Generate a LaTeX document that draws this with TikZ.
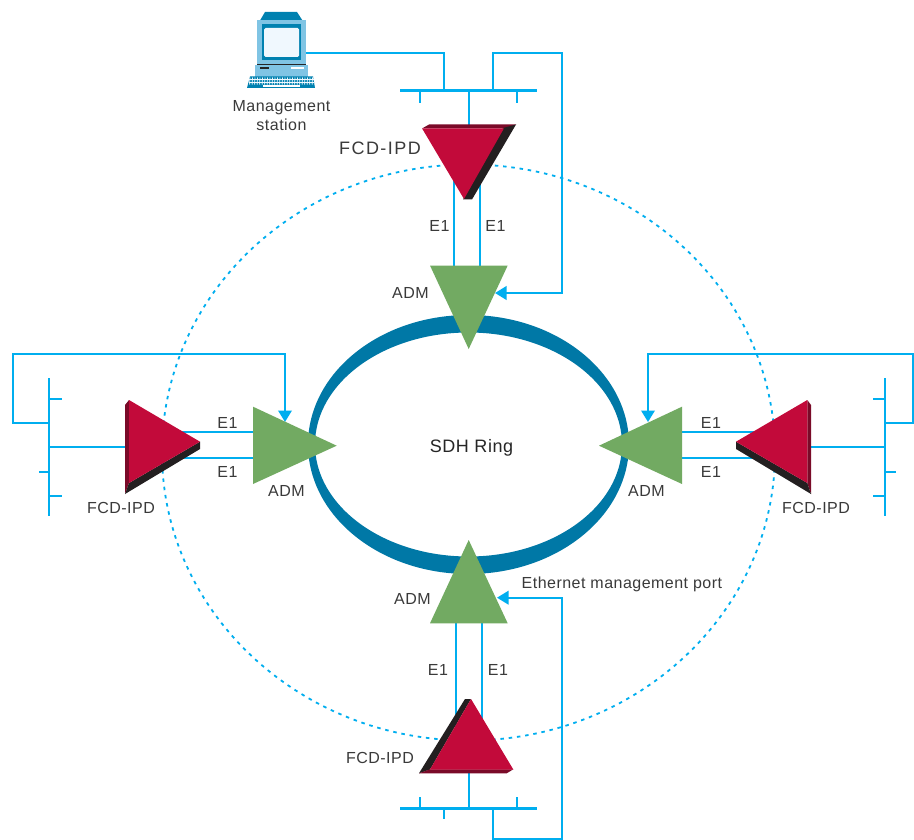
\documentclass[tikz,border=0pt]{standalone}
\usepackage{fontspec}
\setmainfont{Liberation Sans}
\newfontfamily\labfont[LetterSpace=3]{Liberation Sans}
\newfontfamily\bigfont[LetterSpace=8]{Liberation Sans}
\usetikzlibrary{arrows.meta}
\definecolor{linkblue}{HTML}{00AEEF}
\definecolor{admgreen}{HTML}{72AA62}
\definecolor{ipdred}{HTML}{C20A3A}
\definecolor{ipddark}{HTML}{7A0A28}
\definecolor{ipdblack}{HTML}{231F20}
\definecolor{ringblue}{HTML}{0078A6}
\definecolor{pcblue}{HTML}{80C4E4}
\definecolor{pcteal}{HTML}{0081B0}
\definecolor{pcscreen}{HTML}{F0F8FE}
\definecolor{labelgrey}{HTML}{3A3A3A}
\tikzset{
  link/.style={draw=linkblue,line width=2pt},
  stub/.style={draw=linkblue,line width=1.8pt},
  busbar/.style={draw=linkblue,line width=2.9pt},
  mgmt/.style={draw=linkblue,line width=2pt,-{Triangle[length=11.5pt,width=13.5pt]}},
  e1line/.style={draw=linkblue,line width=2pt},
  admtri/.style={fill=admgreen},
  ipdface/.style={fill=ipdred},
  ipdedge/.style={fill=ipddark},
  ipdshade/.style={fill=ipdblack},
  lab/.style={text=labelgrey,inner sep=0pt,font=\labfont\fontsize{16}{18}\selectfont},
  labbig/.style={text=labelgrey,inner sep=0pt,font=\bigfont\fontsize{18}{20}\selectfont},
  x=1pt,y=-1pt
}
\begin{document}
\begin{tikzpicture}
\useasboundingbox (0,0) rectangle (914,840);
\fill[white] (0,0) rectangle (914,840);

% dotted management ring
\draw[linkblue,line width=1.8pt,dash pattern=on 3.5pt off 4.8pt] (468.5,452.5) ellipse [x radius=306.5,y radius=288];

% SDH ring
\fill[ringblue,even odd rule] (468.5,444.5) ellipse [x radius=160.5,y radius=129.5]
      (468.5,444.5) ellipse [x radius=153.5,y radius=112];
\node[inner sep=0pt,text=black!85,font=\labfont\fontsize{18}{20}\selectfont] (ringlabel) at (471.5,448) {SDH Ring};

% named points: top site
\coordinate (tbusL) at (400,90.7);  \coordinate (tbusR) at (537,90.7);
\coordinate (ts1) at (420,90.7);    \coordinate (ts1e) at (420,102.7);
\coordinate (ts2) at (517,90.7);    \coordinate (ts2e) at (517,102.7);
\coordinate (tsm) at (468.7,90.7);  \coordinate (tsme) at (468.7,126);
\coordinate (tj1) at (444,90.7);    \coordinate (tj2) at (492.7,90.7);
\coordinate (tadmport) at (495,293);
\coordinate (te1a) at (454,170);    \coordinate (te1ae) at (454,266);
\coordinate (te1b) at (480,170);    \coordinate (te1be) at (480,266);
% left site
\coordinate (lbusT) at (49,378);    \coordinate (lbusB) at (49,516);
\coordinate (ls1) at (49,398.7);    \coordinate (ls1e) at (61.5,398.7);
\coordinate (ls2) at (49,471.7);    \coordinate (ls2e) at (38.5,471.7);
\coordinate (ls3) at (49,495.7);    \coordinate (ls3e) at (61.5,495.7);
\coordinate (lsm) at (49,447);      \coordinate (lsme) at (126,447);
\coordinate (lj) at (49,422.7);
\coordinate (ladmport) at (285,422);
\coordinate (le1a) at (175,432.3);  \coordinate (le1ae) at (254,432.3);
\coordinate (le1b) at (175,458.3);  \coordinate (le1be) at (254,458.3);
% right site
\coordinate (rbusT) at (885,378);   \coordinate (rbusB) at (885,516);
\coordinate (rs1) at (885,398.7);   \coordinate (rs1e) at (873,398.7);
\coordinate (rs2) at (885,471.7);   \coordinate (rs2e) at (895.7,471.7);
\coordinate (rs3) at (885,495.7);   \coordinate (rs3e) at (873,495.7);
\coordinate (rsm) at (885,447);     \coordinate (rsme) at (810,447);
\coordinate (rj) at (885,422.7);
\coordinate (radmport) at (648,422);
\coordinate (re1a) at (760,432.3);  \coordinate (re1ae) at (681,432.3);
\coordinate (re1b) at (760,458.3);  \coordinate (re1be) at (681,458.3);
% bottom site
\coordinate (bbusL) at (400,808.3); \coordinate (bbusR) at (537.3,808.3);
\coordinate (bs1) at (420,808.3);   \coordinate (bs1e) at (420,796.7);
\coordinate (bs2) at (517,808.3);   \coordinate (bs2e) at (517,796.7);
\coordinate (bs3) at (444.3,808.3); \coordinate (bs3e) at (444.3,819);
\coordinate (bsm) at (468.7,808.3); \coordinate (bsme) at (468.7,772);
\coordinate (bj) at (492.7,808.3);
\coordinate (badmport) at (497,597.7);
\coordinate (be1a) at (456,730);    \coordinate (be1ae) at (456,622);
\coordinate (be1b) at (481.7,730);  \coordinate (be1be) at (481.7,622);
\coordinate (pcport) at (306,52.7);

% links
\draw[link] (pcport) -| (tj1);
\draw[mgmt] (tj2) |- (561.7,52.7) |- (tadmport);
\draw[e1line] (te1a) -- (te1ae);
\draw[e1line] (te1b) -- (te1be);
\draw[stub] (ts1) -- (ts1e);
\draw[stub] (ts2) -- (ts2e);
\draw[stub] (tsm) -- (tsme);
\draw[busbar] (tbusL) -- (tbusR);

\draw[mgmt] (lj) -| (13,354) -| (ladmport);
\draw[e1line] (le1a) -- (le1ae);
\draw[e1line] (le1b) -- (le1be);
\draw[stub] (ls1) -- (ls1e);
\draw[stub] (ls2) -- (ls2e);
\draw[stub] (ls3) -- (ls3e);
\draw[stub] (lsm) -- (lsme);
\draw[busbar] (lbusT) -- (lbusB);

\draw[mgmt] (rj) -| (913,354) -| (radmport);
\draw[e1line] (re1a) -- (re1ae);
\draw[e1line] (re1b) -- (re1be);
\draw[stub] (rs1) -- (rs1e);
\draw[stub] (rs2) -- (rs2e);
\draw[stub] (rs3) -- (rs3e);
\draw[stub] (rsm) -- (rsme);
\draw[busbar] (rbusT) -- (rbusB);

\draw[mgmt] (bj) |- (561.7,839) |- (badmport);
\draw[e1line] (be1a) -- (be1ae);
\draw[e1line] (be1b) -- (be1be);
\draw[stub] (bs1) -- (bs1e);
\draw[stub] (bs2) -- (bs2e);
\draw[stub] (bs3) -- (bs3e);
\draw[stub] (bsm) -- (bsme);
\draw[busbar] (bbusL) -- (bbusR);

% ADM triangles
\fill[admtri] (430,265.5) -- (507.7,265.5) -- (468.7,349) -- cycle;
\fill[admtri] (253,406.7) -- (253,484) -- (336.7,445.7) -- cycle;
\fill[admtri] (682,406.7) -- (682,484) -- (599,445.7) -- cycle;
\fill[admtri] (468.7,540) -- (430,623.3) -- (507.7,623.3) -- cycle;

% FCD-IPD top
\fill[ipdedge] (422,128.5) -- (429,124.5) -- (516,124.5) -- (506,128.5) -- cycle;
\fill[ipdshade] (503,128) -- (516,124.5) -- (472,199.5) -- (463,199.5) -- cycle;
\fill[ipdface] (422,128.3) -- (504,128.3) -- (464,199) -- cycle;
% FCD-IPD left
\fill[ipdedge] (125,405) -- (129,400) -- (129,483) -- (125,494) -- cycle;
\fill[ipdshade] (129,483) -- (200,441.7) -- (200,449) -- (125,494) -- cycle;
\fill[ipdface] (129,400) -- (200,441.7) -- (129,483) -- cycle;
% FCD-IPD right
\fill[ipdedge] (807.3,400) -- (811,405) -- (811,494) -- (807.3,483) -- cycle;
\fill[ipdshade] (736,441.7) -- (807.3,483) -- (811,494) -- (736,449) -- cycle;
\fill[ipdface] (807.3,400) -- (736,441.7) -- (807.3,483) -- cycle;
% FCD-IPD bottom
\fill[ipdshade] (465,699) -- (471,699) -- (430,769.5) -- (419,773.3) -- cycle;
\fill[ipdedge] (419,773.3) -- (430,769.3) -- (513.3,769.3) -- (506.7,773.3) -- cycle;
\fill[ipdface] (471,699) -- (430,769.5) -- (513.3,769.5) -- cycle;

% management station
\fill[pcteal] (260,20.5) -- (265,12) -- (297,12) -- (302.5,20.5) -- cycle;
\fill[pcblue] (257,20) rectangle (306,64);
\fill[pcteal] (262,24.5) rectangle (301,60);
\fill[pcscreen,rounded corners=1.5pt] (264,28) rectangle (299,57);
\fill[pcblue] (255,65) rectangle (308,77);
\fill[black!85] (257,64) rectangle (306,65);
\fill[black!85] (260,67) rectangle (269,69);
\fill[white] (291,67) rectangle (304,69);
\fill[pcteal] (250,76.5) -- (313,76.5) -- (315,88) -- (247,88) -- cycle;
\foreach \kx in {250,252.5,...,313} {\draw[pcscreen,line width=.8pt] (\kx,77.5) -- ++(-.4,7);}
\foreach \ky in {79.3,82.3} {\draw[pcscreen,line width=.8pt] (248.5,\ky) -- (314,\ky);}
\fill[white] (263,85) rectangle (300,87);

% labels
\node[lab,align=center] (stationlabel) at (281.5,115.5) {Management\\[1.2pt]station};
\node[labbig] (ipdtop) at (380,148) {FCD-IPD};
\node[lab] (e1ta) at (439.5,225.5) {E1};
\node[lab] (e1tb) at (495.5,225.5) {E1};
\node[lab] (admt) at (410.5,293) {ADM};
\node[lab] (e1la) at (227.5,422.5) {E1};
\node[lab] (e1lb) at (227.5,472) {E1};
\node[lab] (admlab) at (286.5,491) {ADM};
\node[lab] (ipdleft) at (121,507.5) {FCD-IPD};
\node[lab] (e1ra) at (711,422.5) {E1};
\node[lab] (e1rb) at (711,472) {E1};
\node[lab] (admr) at (646.5,491) {ADM};
\node[lab] (ipdright) at (816,507.5) {FCD-IPD};
\node[lab] (admb) at (412.5,599) {ADM};
\node[lab,anchor=west] (ethlabel) at (521.5,584) {Ethernet management port};
\node[lab] (e1ba) at (438,670) {E1};
\node[lab] (e1bb) at (498,670) {E1};
\node[lab] (ipdbot) at (380,757.5) {FCD-IPD};
\end{tikzpicture}
\end{document}
